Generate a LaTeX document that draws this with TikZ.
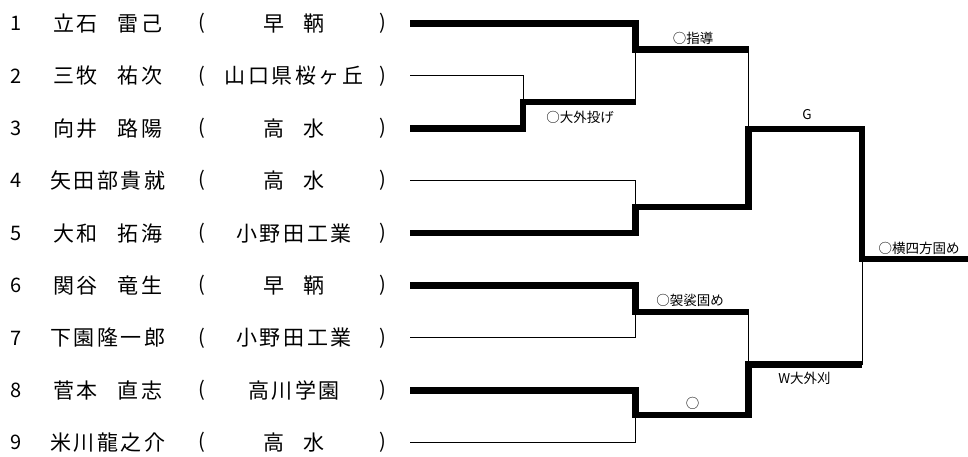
\documentclass[tikz,border=0pt]{standalone}
\usepackage{fontspec}
\setmainfont{Noto Sans CJK JP}
\newfontfamily\jpwide[LetterSpace=12]{Noto Sans CJK JP}
\usetikzlibrary{positioning, calc}

\newcommand{\jgap}{\hspace{20pt}}
\newcommand{\ngap}{\hspace{20pt}}

\begin{document}
\begin{tikzpicture}[
    x=1pt, y=-1pt,
    win/.style={line width=6.5pt, black},  % 勝ち上がり(太線)
    lose/.style={line width=1pt, black},   % 敗退(細線)
    numtxt/.style={font=\fontsize{20}{24}\selectfont, inner sep=0pt},
    pname/.style={font=\jpwide\fontsize{21}{24}\selectfont, inner sep=0pt},
    res/.style={font=\fontsize{13.5}{15}\selectfont, inner sep=0pt} % 決まり手
]
    \useasboundingbox (0,0) rectangle (968,457);

    % 1. 選手名・所属(9名)と線の始点
    \foreach \i/\nm/\sc in {1/立石\ngap 雷己/早\jgap 鞆, 2/三牧\ngap 祐次/山口県桜ヶ丘,
        3/向井\ngap 路陽/高\jgap 水, 4/矢田部貴就/高\jgap 水, 5/大和\ngap 拓海/小野田工業,
        6/関谷\ngap 竜生/早\jgap 鞆, 7/下園隆一郎/小野田工業, 8/菅本\ngap 直志/高川学園,
        9/米川龍之介/高\jgap 水} {
        \pgfmathsetmacro\y{23.5+52.4*(\i-1)}
        \node[numtxt] (n\i) at (16.5,\y) {\i};
        \node[pname] (p\i) at (108,\y) {\nm};
        \node[numtxt] (l\i) at (202,\y) {(};
        \node[pname] (c\i) at (294,\y) {\sc};
        \node[numtxt] (r\i) at (383,\y) {)};
        \coordinate (s\i) at (410,\y);
    }

    % 2. 組み合わせの交点
    \coordinate (mA) at (523,102.1);
    \coordinate (mB) at (635.5,49.7);
    \coordinate (mC) at (635.5,207);
    \coordinate (mD) at (748.5,129);
    \coordinate (mE) at (635.5,312);
    \coordinate (mF) at (635.5,415);
    \coordinate (mG) at (748.5,364.5);
    \coordinate (mH) at (862,259);
    \coordinate (fin) at (968,259);

    % 3. 敗退側の細線
    \draw[lose] (s2) -| (mA);
    \draw[lose] (mA -| mB) -- (mB);
    \draw[lose] (mB -| mD) -- (mD);
    \draw[lose] (s4) -| (mC);
    \draw[lose] (s7) -| (mE);
    \draw[lose] (s9) -| (mF);
    \draw[lose] (mE -| mG) -- (mG);
    \draw[lose] (mG -| mH) -- (mH);

    % 4. 勝ち上がりの太線
    \draw[win] (s1) -| (mB) -- (mB -| mD);
    \draw[win] (s3) -| (mA) -- (mA -| mB);
    \draw[win] (s5) -| (mC) -- (mC -| mD) -- (mD) -- (mD -| mH) -- (mH) -- (fin);
    \draw[win] (s6) -| (mE) -- (mE -| mG);
    \draw[win] (s8) -| (mF) -- (mF -| mG) -- (mG) -- (mG -| mH);

    % 5. 決まり手
    \node[res] (k1) at (580,117) {○大外投げ};
    \node[res] (k2) at (693,38) {○指導};
    \node[res] (k3) at (807,115) {G};
    \node[res] (k4) at (690,300) {○袈裟固め};
    \node[res] (k5) at (692.5,403) {○};
    \node[res] (k6) at (804.5,378) {W大外刈};
    \node[res] (k7) at (919,248) {○横四方固め};
\end{tikzpicture}
\end{document}
